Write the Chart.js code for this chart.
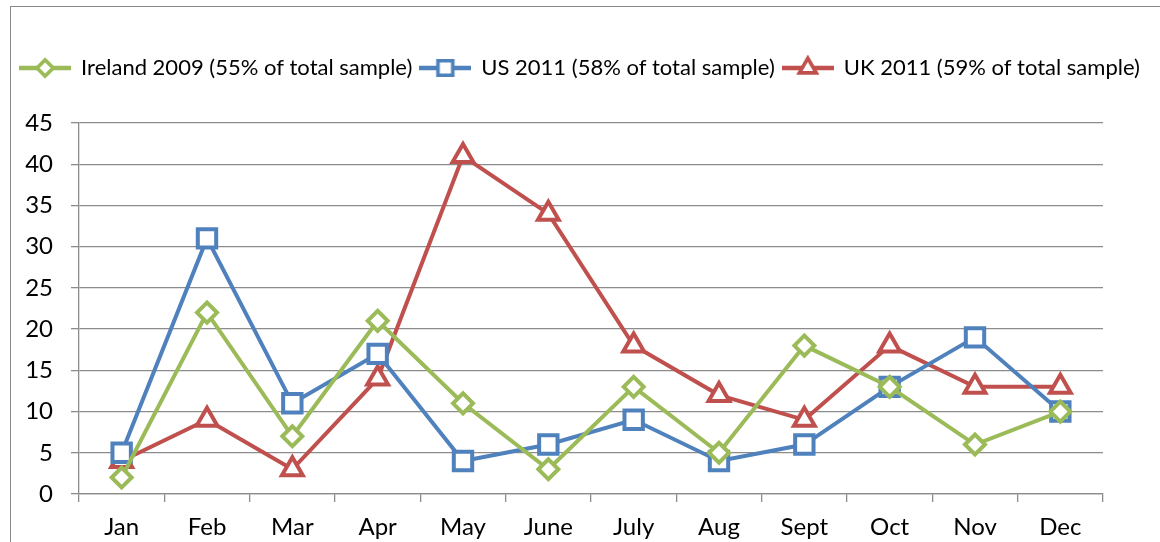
<!DOCTYPE html>
<html>
<head>
<meta charset="utf-8">
<script src="https://cdn.jsdelivr.net/npm/chart.js@4/dist/chart.umd.min.js"></script>
<style>
  html, body { margin: 0; padding: 0; background: #fff; overflow: hidden; }
  #frame { position: absolute; left: 10px; top: 6px; width: 1200px; height: 600px;
           border-left: 1.5px solid #8a8a8a; border-top: 1.5px solid #8a8a8a; }
  #wrap { position: absolute; left: 0; top: 0; width: 1160px; height: 542px; }
</style>
</head>
<body>
<div id="frame"></div>
<div id="wrap"><canvas id="chart" width="1160" height="542"></canvas></div>
<script>
const months = ["Jan", "Feb", "Mar", "Apr", "May", "June", "July", "Aug", "Sept", "Oct", "Nov", "Dec"];
const ireland2009 = [2, 22, 7, 21, 11, 3, 13, 5, 18, 13, 6, 10];
const us2011 = [5, 31, 11, 17, 4, 6, 9, 4, 6, 13, 19, 10];
const uk2011 = [4, 9, 3, 14, 41, 34, 18, 12, 9, 18, 13, 13];

const green = "#9BBB59";
const blue = "#4F81BD";
const red = "#C0504D";
const gridColor = "#8c8c8c";
const font = "Lato";

// small line+marker swatch for the legend, like the office-style key
function swatch(color, style, r) {
  const c = document.createElement("canvas");
  c.width = 52;
  c.height = 26;
  const g = c.getContext("2d");
  g.strokeStyle = color;
  g.lineWidth = 4.5;
  g.beginPath();
  g.moveTo(0, 13);
  g.lineTo(52, 13);
  g.stroke();
  g.fillStyle = "#fff";
  g.lineWidth = 3.5;
  g.beginPath();
  Chart.helpers.drawPoint(g, { pointStyle: style, radius: r, rotation: 0, borderWidth: 3.5 }, 26, 13);
  g.fill();
  g.stroke();
  return c;
}

function series(label, data, color, style, r) {
  return {
    label: label,
    data: data,
    borderColor: color,
    backgroundColor: "#fff",
    borderWidth: 4,
    pointStyle: style,
    pointRadius: r,
    pointBorderWidth: 4,
    pointBackgroundColor: "#fff",
    pointBorderColor: color,
    tension: 0,
    legendIcon: swatch(color, style, r * 0.8)
  };
}

// legend spans the whole canvas width and leaves room below it
const legendGap = {
  id: "legendGap",
  beforeInit(chart) {
    const fit = chart.legend.fit;
    chart.legend.fit = function () {
      this.maxWidth = chart.width;
      fit.call(this);
      this.height += 34;
    };
  },
  afterLayout(chart) {
    chart.legend.left = 0;
    chart.legend.right = chart.width;
    chart.legend.width = chart.width;
  }
};

new Chart(document.getElementById("chart"), {
  type: "line",
  data: {
    labels: months,
    datasets: [
      series("Ireland 2009 (55% of total sample)", ireland2009, green, "rectRot", 10),
      series("US 2011 (58% of total sample)", us2011, blue, "rect", 13),
      series("UK 2011 (59% of total sample)", uk2011, red, "triangle", 12)
    ]
  },
  plugins: [legendGap],
  options: {
    responsive: false,
    animation: false,
    layout: { padding: { top: 49, right: 57, left: 0, bottom: 0 } },
    plugins: {
      tooltip: { enabled: false },
      legend: {
        position: "top",
        labels: {
          usePointStyle: true,
          pointStyleWidth: 50,
          padding: 8,
          color: "#000",
          font: { family: font, size: 22 },
          generateLabels(chart) {
            return chart.data.datasets.map((ds, i) => ({
              text: ds.label,
              datasetIndex: i,
              pointStyle: ds.legendIcon,
              fontColor: "#000",
              lineWidth: 0,
              hidden: false
            }));
          }
        }
      }
    },
    scales: {
      x: {
        offset: true,
        grid: { offset: true, drawOnChartArea: false, drawTicks: true, tickLength: 8, color: gridColor, lineWidth: 1.3 },
        border: { color: gridColor, width: 1.3 },
        ticks: { color: "#000", padding: 11, maxRotation: 0, font: { family: font, size: 24 } },
        afterFit(scale) { scale.height = 48; }
      },
      y: {
        min: 0,
        max: 45,
        ticks: { stepSize: 5, color: "#000", padding: 18, font: { family: font, size: 24 } },
        grid: { color: gridColor, lineWidth: 1.3, tickLength: 8 },
        border: { color: gridColor, width: 1.3 },
        afterFit(scale) { scale.width = 79; }
      }
    }
  }
});
</script>
</body>
</html>
